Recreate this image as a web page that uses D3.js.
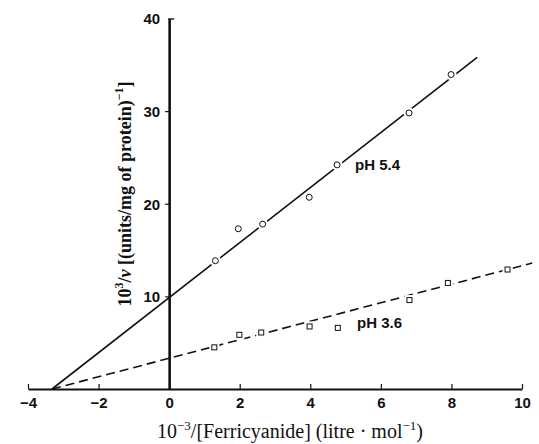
<!DOCTYPE html>
<html>
<head>
<meta charset="utf-8">
<script src="https://cdn.jsdelivr.net/npm/d3@7"></script>
<style>
  body { margin: 0; background: #fff; }
  .tick text { font-family: "Liberation Sans", Arial, sans-serif; font-weight: bold; font-size: 15px; fill: #111; }
  .title { font-family: "Liberation Serif", "Times New Roman", serif; font-size: 20px; fill: #111; }
  .ytitle { font-weight: bold; font-size: 18px; }
  .lab { font-family: "Liberation Sans", Arial, sans-serif; font-weight: bold; font-size: 15px; fill: #111; }
</style>
</head>
<body>
<svg id="chart" width="539" height="444"></svg>
<script>
//dimensions of the svg
var width = 539, height = 444;

//x ticks and y ticks
var xTicks = [-4, -2, 0, 2, 4, 6, 8, 10];
var yTicks = [10, 20, 30, 40];

//pH 5.4 points (circles)
var ph54x = [1.31, 1.96, 2.65, 3.97, 4.76, 6.8, 7.99];
var ph54y = [13.85, 17.3, 17.8, 20.7, 24.2, 29.8, 33.95];

//pH 3.6 points (squares)
var ph36x = [1.28, 1.99, 2.61, 3.98, 4.78, 6.81, 7.9, 9.59];
var ph36y = [4.5, 5.85, 6.1, 6.75, 6.6, 9.6, 11.45, 12.9];

//fitted lines (end points)
var fit54 = [[-3.32, 0], [8.73, 35.8]];
var fit36 = [[-3.32, 0], [10.29, 13.6]];

var svg = d3.select('#chart');

var x = d3.scaleLinear().domain([-4, 10]).range([28, 522]);
var y = d3.scaleLinear().domain([0, 40]).range([389, 18.5]);

var line = d3.line()
    .x(function(d) { return x(d[0]); })
    .y(function(d) { return y(d[1]); });

//fitted lines
svg.append('path')
    .attr('d', line(fit54))
    .attr('fill', 'none')
    .attr('stroke', '#111')
    .attr('stroke-width', 1.6);

svg.append('path')
    .attr('d', line(fit36))
    .attr('fill', 'none')
    .attr('stroke', '#111')
    .attr('stroke-width', 1.6)
    .attr('stroke-dasharray', '9,5');

//x axis
var xAxis = d3.axisBottom(x)
    .tickValues(xTicks)
    .tickSizeInner(-5)
    .tickSizeOuter(0)
    .tickPadding(8);

var gx = svg.append('g')
    .attr('transform', 'translate(0,' + y(0) + ')')
    .call(xAxis);
gx.select('.domain').attr('stroke', '#111').attr('stroke-width', 2);
gx.selectAll('.tick line').attr('stroke', '#111').attr('stroke-width', 1.2);

//y axis
var yAxis = d3.axisLeft(y)
    .tickValues(yTicks)
    .tickSizeInner(4)
    .tickSizeOuter(0)
    .tickPadding(5);

var gy = svg.append('g')
    .attr('transform', 'translate(' + x(0) + ',0)')
    .call(yAxis);
gy.select('.domain').attr('stroke', '#111').attr('stroke-width', 2.6);
gy.selectAll('.tick line').attr('stroke', '#111').attr('stroke-width', 1.2);
gy.selectAll('.tick text').attr('dy', '0.35em');
gy.selectAll('.tick').filter(function(d) { return d === 40; }).select('line').remove();

//small tick at the top pointing right
svg.append('line')
    .attr('x1', x(0) - 1).attr('x2', x(0) + 5)
    .attr('y1', y(40) + 0.5).attr('y2', y(40) + 0.5)
    .attr('stroke', '#111').attr('stroke-width', 1.4);

//markers
var circ = d3.zip(ph54x, ph54y);
var sq = d3.zip(ph36x, ph36y);

svg.selectAll('.halo54')
    .data(circ).enter().append('circle')
    .attr('cx', function(d) { return x(d[0]); })
    .attr('cy', function(d) { return y(d[1]); })
    .attr('r', 5.5)
    .attr('fill', '#fff');

svg.selectAll('.pt54')
    .data(circ).enter().append('circle')
    .attr('cx', function(d) { return x(d[0]); })
    .attr('cy', function(d) { return y(d[1]); })
    .attr('r', 3)
    .attr('fill', '#fff')
    .attr('stroke', '#111')
    .attr('stroke-width', 1);

svg.selectAll('.halo36')
    .data(sq).enter().append('rect')
    .attr('x', function(d) { return x(d[0]) - 5; })
    .attr('y', function(d) { return y(d[1]) - 5; })
    .attr('width', 10).attr('height', 10)
    .attr('fill', '#fff');

svg.selectAll('.pt36')
    .data(sq).enter().append('rect')
    .attr('x', function(d) { return x(d[0]) - 2.5; })
    .attr('y', function(d) { return y(d[1]) - 2.5; })
    .attr('width', 5).attr('height', 5)
    .attr('fill', '#fff')
    .attr('stroke', '#111')
    .attr('stroke-width', 1);

//series labels
svg.append('text').attr('class', 'lab')
    .attr('x', 355).attr('y', 170)
    .text('pH 5.4');

svg.append('text').attr('class', 'lab')
    .attr('x', 357).attr('y', 328)
    .text('pH 3.6');

//axis titles
var xt = svg.append('text').attr('class', 'title')
    .attr('x', 290).attr('y', 438)
    .attr('text-anchor', 'middle');
xt.append('tspan').text('10');
xt.append('tspan').attr('font-size', '13px').attr('dy', '-8').text('\u22123');
xt.append('tspan').attr('dy', '8').text('/[Ferricyanide] (litre \u00b7 mol');
xt.append('tspan').attr('font-size', '13px').attr('dy', '-8').text('\u22121');
xt.append('tspan').attr('dy', '8').text(')');

var yt = svg.append('text').attr('class', 'title ytitle')
    .attr('transform', 'translate(131,194) rotate(-90)')
    .attr('text-anchor', 'middle');
yt.append('tspan').text('10');
yt.append('tspan').attr('font-size', '12px').attr('dy', '-8').text('3');
yt.append('tspan').attr('dy', '8').text('/');
yt.append('tspan').attr('font-style', 'italic').text('v');
yt.append('tspan').text(' [(units/mg of protein)');
yt.append('tspan').attr('font-size', '12px').attr('dy', '-8').text('\u22121');
yt.append('tspan').attr('dy', '8').text(']');
</script>
</body>
</html>
